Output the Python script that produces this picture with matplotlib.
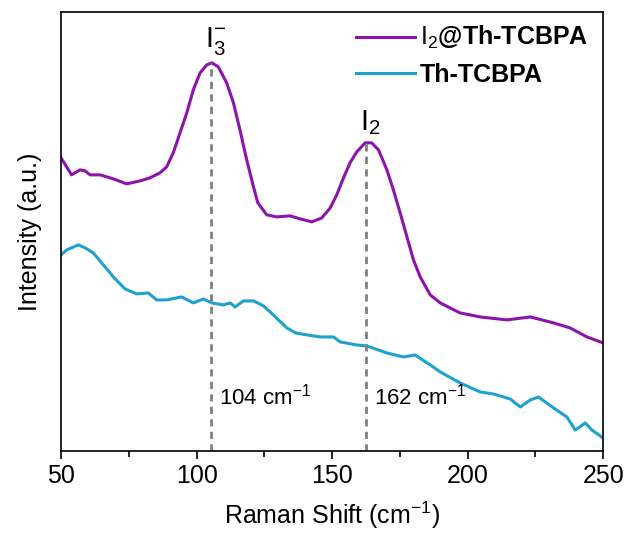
import numpy as np
from matplotlib import pyplot as plt

plt.rcParams['font.family'] = ['Liberation Sans', 'DejaVu Sans']
plt.rcParams['mathtext.fontset'] = 'custom'
plt.rcParams['mathtext.rm'] = 'Liberation Sans'
plt.rcParams['mathtext.default'] = 'regular'

# I2@Th-TCBPA spectrum
x_i2 = [50, 53.9, 57, 58.9, 60.7, 64.4, 69.3, 74.2, 79.2, 82.8, 86.5, 89, 91.4,
        93.9, 96.4, 98.8, 101.3, 103.8, 105.6, 108, 111.1, 113.6, 116, 118.5,
        121, 122.6, 125.9, 129.6, 134.5, 138.2, 142.5, 146.2, 149.3, 151.7,
        154.2, 156.6, 159.1, 162.2, 164.6, 167.1, 170.2, 172.6, 175.1, 177.6,
        180, 182.5, 186.2, 189.9, 193.5, 197.2, 204.6, 214.5, 223.1, 231.7,
        237.8, 244, 250]
y_i2 = [293, 276, 281, 280, 276, 276, 272, 267, 270, 273, 278, 284, 298,
        318, 338, 361, 378, 386, 388, 384, 368, 348, 321, 291,
        264, 248, 236, 234, 235, 232, 229, 233, 243, 256,
        273, 288, 299, 308, 308, 301, 281, 261, 238, 214,
        191, 174, 156, 148, 143, 138, 134, 131, 134, 128,
        123, 114, 108]

# Th-TCBPA spectrum
x_th = [50, 52.1, 56.4, 58.9, 61.9, 65.6, 69.3, 73.6, 77.9, 82.2, 85.3, 89,
        94.5, 98.8, 102.5, 105.6, 109.9, 112.4, 114.2, 117.3, 121, 124.7,
        128.3, 133.3, 136.5, 140.7, 145.6, 150.5, 153, 159.1, 162.8, 170.2,
        176.3, 180.6, 186.2, 189.9, 197.2, 204.6, 209.5, 215.7, 219.4, 223.1,
        226.1, 231.7, 236.6, 239.7, 243.4, 245.8, 250]
y_th = [196, 201, 206, 203, 198, 186, 174, 162, 157, 158, 151, 151,
        154, 148, 152, 148, 146, 148, 144, 150, 150, 145,
        136, 123, 118, 116, 114, 114, 109, 106, 105, 98,
        94, 96, 86, 79, 68, 59, 57, 52, 44, 51,
        54, 43, 34, 21, 28, 21, 13]

peak_x = [105.5, 162.5]
peak_y = [388, 308]
peak_names = [r"$\mathregular{I_3^{-}}$", r"$\mathregular{I_2}$"]
peak_labels = [r"104 cm$^{-1}$", r"162 cm$^{-1}$"]


def main():
    fig = plt.figure(figsize=(6.29, 5.35), dpi=100)
    ax = fig.add_axes([0.097, 0.157, 0.862, 0.821])

    ax.plot(x_i2, y_i2, color="#8C14AC", lw=2.2, label=r"$\mathrm{I_2}$@Th-TCBPA")
    ax.plot(x_th, y_th, color="#1EA0D0", lw=2.2, label="Th-TCBPA")

    for px, py, nm, lb in zip(peak_x, peak_y, peak_names, peak_labels):
        ax.plot([px, px], [0, py], ls=(0, (2.6, 1.9)), color="#808080", lw=2.0)
        ax.text(px + 1.5, py + 6, nm, fontsize=21, ha="center", va="bottom")
        ax.text(px + 2.8, 54, lb, fontsize=16, ha="left", va="center")

    ax.set_xlim(50, 250)
    ax.set_ylim(0, 439)
    ax.set_xticks([50, 100, 150, 200, 250])
    ax.set_xticks([75, 125, 175, 225], minor=True)
    ax.set_yticks([])
    ax.tick_params(axis="x", which="major", labelsize=18, length=6, width=1.2, direction="out")
    ax.tick_params(axis="x", which="minor", length=4, width=1.2, direction="out")
    for s in ax.spines.values():
        s.set_linewidth(1.2)

    ax.set_xlabel(r"Raman Shift (cm$^{-1}$)", fontsize=18, labelpad=8)
    ax.set_ylabel("Intensity (a.u.)", fontsize=18, labelpad=14)

    ax.legend(loc="upper right", frameon=False, prop={"size": 18, "weight": "bold"},
              handlelength=2.35, handletextpad=0.2, labelspacing=0.45,
              borderaxespad=0.1, bbox_to_anchor=(0.995, 1.0))

    plt.savefig("out.png", dpi=100)


if __name__ == "__main__":
    main()
